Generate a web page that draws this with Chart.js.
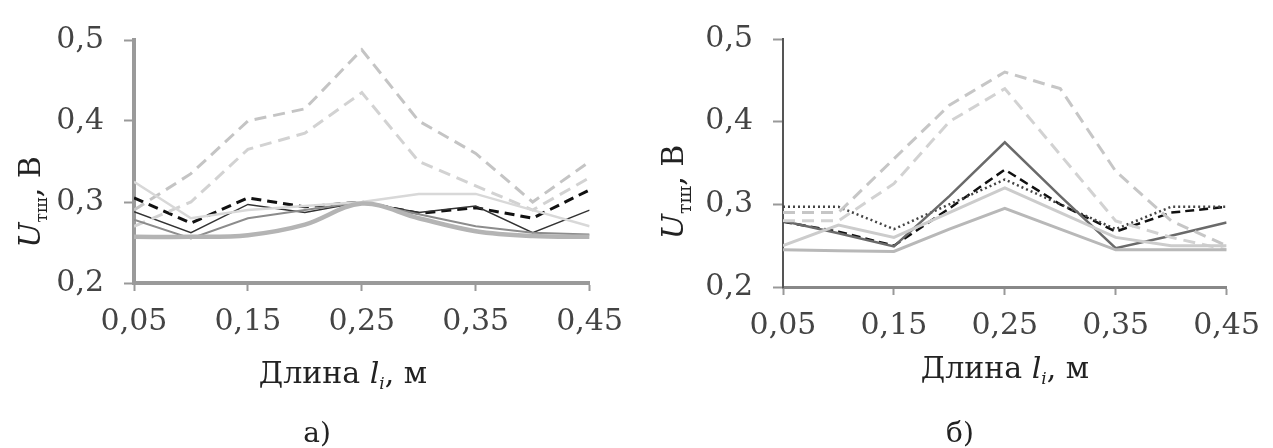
<!DOCTYPE html>
<html><head><meta charset="utf-8">
<script src="https://cdn.jsdelivr.net/npm/chart.js@4.4.0/dist/chart.umd.min.js"></script>
<style>
html,body{margin:0;padding:0;background:#fff;width:1273px;height:448px;overflow:hidden}
#cl{position:absolute;left:0;top:0}
#cr{position:absolute;left:636px;top:0}
</style></head><body>
<canvas id="cl" width="636" height="448"></canvas>
<canvas id="cr" width="637" height="448"></canvas>
<script>
// ---- data ----
const xVals = [0.05, 0.10, 0.15, 0.20, 0.25, 0.30, 0.35, 0.40, 0.45];
const xTicks = [0.05, 0.15, 0.25, 0.35, 0.45];
const yTicks = [0.2, 0.3, 0.4, 0.5];

// panel а)
const leftA = [0.29, 0.335, 0.40, 0.415, 0.488, 0.40, 0.36, 0.30, 0.35];
const leftB = [0.27, 0.30, 0.365, 0.385, 0.435, 0.35, 0.32, 0.29, 0.33];
const leftC = [0.305, 0.274, 0.305, 0.294, 0.30, 0.286, 0.293, 0.28, 0.315];
const leftD = [0.288, 0.262, 0.297, 0.287, 0.30, 0.287, 0.295, 0.262, 0.29];
const leftE = [0.257, 0.257, 0.259, 0.272, 0.298, 0.28, 0.264, 0.258, 0.257];
const leftF = [0.325, 0.28, 0.29, 0.295, 0.30, 0.31, 0.31, 0.29, 0.27];
const leftG = [0.278, 0.255, 0.28, 0.29, 0.30, 0.285, 0.27, 0.262, 0.26];

// panel б)
const rightA = [0.29, 0.29, 0.355, 0.42, 0.46, 0.44, 0.34, 0.28, 0.25];
const rightB = [0.28, 0.28, 0.325, 0.40, 0.44, 0.36, 0.28, 0.26, 0.245];
const rightC = [0.28, 0.265, 0.249, 0.31, 0.375, 0.31, 0.247, 0.262, 0.278];
const rightD = [0.279, 0.267, 0.25, 0.295, 0.342, 0.30, 0.267, 0.29, 0.297];
const rightE = [0.297, 0.297, 0.27, 0.30, 0.33, 0.30, 0.27, 0.297, 0.297];
const rightF = [0.245, 0.244, 0.243, 0.27, 0.295, 0.27, 0.245, 0.245, 0.245];
const rightG = [0.25, 0.275, 0.26, 0.29, 0.32, 0.29, 0.26, 0.25, 0.25];

const FF = '"DejaVu Serif", serif';
Chart.defaults.font.family = FF;

function pts(arr){ return xVals.map((x,i)=>({x:x, y:arr[i]})); }
function ds(arr, color, width, dash, tension){
  return {data: pts(arr), borderColor: color, borderWidth: width, borderDash: dash||[],
    pointRadius: 0, tension: tension||0, fill:false};
}
const comma = v => (Math.round(v*100)/100).toString().replace('.', ',');

function drawRuns(ctx, runs, cx, cy, rotate){
  ctx.save();
  ctx.translate(cx, cy);
  if (rotate) ctx.rotate(-Math.PI/2);
  ctx.textBaseline = 'alphabetic';
  ctx.textAlign = 'left';
  let total = 0;
  runs.forEach(r => { ctx.font = r.f; r.w = ctx.measureText(r.t).width; total += r.w; });
  let p = -total/2;
  ctx.fillStyle = '#222';
  runs.forEach(r => { ctx.font = r.f; ctx.fillText(r.t, p, r.dy||0); p += r.w; });
  ctx.restore();
}

const titlePlugin = {
  id: 'titles',
  afterDraw(chart, args, o){
    const ctx = chart.ctx;
    drawRuns(ctx, o.yRuns, o.yX, o.yY, true);
    drawRuns(ctx, o.xRuns, o.xX, o.xY, false);
    drawRuns(ctx, [{t:o.panel, f:'28px '+FF}], o.pX, o.pY, false);
  }
};

function makeChart(id, datasets, geo){
  return new Chart(document.getElementById(id), {
    type: 'line',
    data: {datasets: datasets},
    plugins: [titlePlugin],
    options: {
      responsive: false, animation: false,
      layout: {padding: {left: 0, top: geo.top, right: geo.right, bottom: geo.bottom}},
      plugins: {legend: {display: false}, tooltip: {enabled: false},
        titles: geo.titles},
      scales: {
        x: {type: 'linear', min: 0.05, max: 0.45,
          afterBuildTicks: s => { s.ticks = xTicks.map(v => ({value: v})); },
          afterFit: s => { s.height = 80; },
          ticks: {callback: v => comma(v), font: {size: 30, family: FF}, color: '#444', padding: 13, maxRotation: 0, autoSkip: false},
          grid: {display: true, drawOnChartArea: false, drawTicks: true, tickLength: 8, tickWidth: 2, color: '#999'},
          border: {display: true, color: geo.xBorder, width: geo.xBorderW}
        },
        y: {type: 'linear', min: 0.2, max: 0.5,
          afterBuildTicks: s => { s.ticks = yTicks.map(v => ({value: v})); },
          afterFit: s => { s.width = geo.left; },
          ticks: {callback: v => comma(v), font: {size: 30, family: FF}, color: '#444', padding: 20, autoSkip: false},
          grid: {display: true, drawOnChartArea: false, drawTicks: true, tickLength: 10, tickWidth: 2, color: '#999'},
          border: {display: true, color: geo.yBorder, width: geo.yBorderW}
        }
      }
    }
  });
}

makeChart('cl', [
  ds(leftE, '#b4b4b4', 4.5, [], 0.35),
  ds(leftF, '#d8d8d8', 2.5),
  ds(leftG, '#8c8c8c', 2),
  ds(leftB, '#d2d2d2', 3, [12, 7]),
  ds(leftA, '#c4c4c4', 3, [12, 7]),
  ds(leftD, '#333333', 1.5),
  ds(leftC, '#111111', 3, [10, 6])
], {left: 134, top: 40, right: 41, bottom: 85, xBorder: '#9a9a9a', xBorderW: 4, yBorder: '#9a9a9a', yBorderW: 4,
  titles: {
    yRuns: [{t:'U', f:'italic 30px '+FF}, {t:'тш', f:'17px '+FF, dy:7}, {t:', В', f:'30px '+FF}], yX: 40, yY: 202,
    xRuns: [{t:'Длина ', f:'30px '+FF}, {t:'l', f:'italic 30px '+FF}, {t:'i', f:'italic 17px '+FF, dy:6}, {t:', м', f:'30px '+FF}], xX: 343, xY: 383,
    panel: 'а)', pX: 317, pY: 442
  }});

makeChart('cr', [
  ds(rightG, '#cccccc', 3),
  ds(rightF, '#b8b8b8', 3),
  ds(rightB, '#d2d2d2', 3, [12, 7]),
  ds(rightA, '#c6c6c6', 3, [12, 7]),
  ds(rightC, '#6a6a6a', 2.5),
  ds(rightE, '#444444', 2.5, [2, 3]),
  ds(rightD, '#111111', 2.5, [9, 5])
], {left: 147, top: 39, right: 45, bottom: 81, xBorder: '#888888', xBorderW: 3, yBorder: '#555555', yBorderW: 2,
  titles: {
    yRuns: [{t:'U', f:'italic 30px '+FF}, {t:'тш', f:'19px '+FF, dy:8}, {t:', В', f:'30px '+FF}], yX: 47, yY: 192,
    xRuns: [{t:'Длина ', f:'30px '+FF}, {t:'l', f:'italic 30px '+FF}, {t:'i', f:'italic 17px '+FF, dy:6}, {t:', м', f:'30px '+FF}], xX: 369, xY: 378,
    panel: 'б)', pX: 324, pY: 442
  }});
</script>
</body></html>
